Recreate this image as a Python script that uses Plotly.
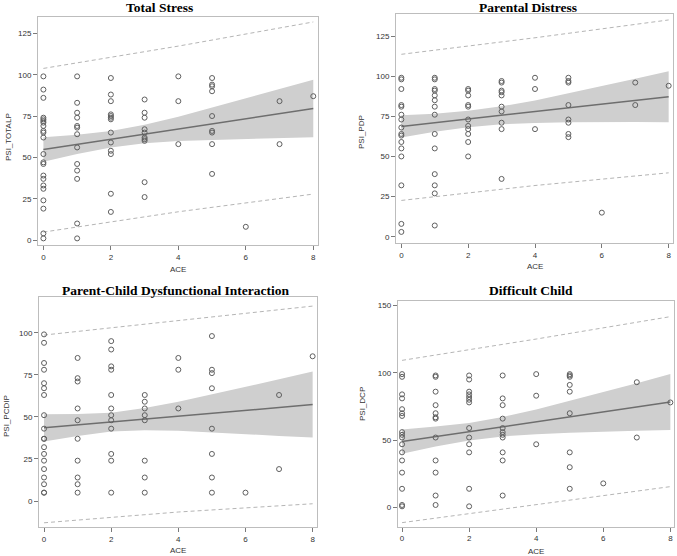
import plotly.graph_objects as go

# ---------------- data ----------------
ace_ticks = [0, 2, 4, 6, 8]
ace_grid = [0, 1, 2, 3, 4, 5, 6, 7, 8]
ace_ends = [0, 8]
ace_pred = [0, 4, 8]

# observed scores grouped by ACE level (index = ACE)
total_stress = [
    [99, 91, 86, 74, 73, 72, 71, 69, 66, 65, 62, 52, 47, 46, 39, 37, 33, 31, 24, 19, 4, 1],
    [99, 83, 77, 74, 69, 68, 64, 56, 46, 42, 37, 10, 1],
    [98, 88, 84, 76, 75, 74, 73, 65, 59, 54, 52, 28, 17],
    [85, 77, 74, 67, 65, 62, 61, 60, 35, 26],
    [99, 84, 58],
    [98, 94, 93, 90, 75, 66, 65, 58, 40],
    [8],
    [84, 58],
    [87],
]
parental_distress = [
    [99, 98, 92, 82, 81, 76, 73, 68, 64, 63, 59, 55, 50, 32, 8, 3],
    [99, 98, 92, 91, 88, 85, 81, 76, 64, 55, 39, 32, 27, 7],
    [92, 91, 88, 82, 81, 73, 69, 67, 64, 59, 50],
    [97, 96, 91, 90, 88, 81, 78, 71, 67, 36],
    [99, 92, 67],
    [99, 97, 96, 82, 73, 71, 64, 62],
    [15],
    [96, 82],
    [94],
]
pcdi = [
    [99, 94, 82, 78, 70, 67, 63, 51, 43, 37, 37, 32, 28, 24, 19, 14, 10, 5, 5],
    [85, 73, 71, 55, 48, 37, 24, 14, 10, 5],
    [95, 90, 80, 78, 63, 55, 51, 48, 43, 28, 24, 5],
    [63, 59, 55, 51, 48, 24, 14, 5],
    [85, 78, 55],
    [98, 78, 76, 67, 43, 28, 14, 5],
    [5],
    [63, 19],
    [86],
]
difficult_child = [
    [99, 97, 84, 81, 73, 70, 68, 56, 54, 52, 47, 41, 35, 26, 14, 2, 1],
    [98, 97, 86, 76, 70, 67, 66, 52, 35, 26, 9, 2],
    [98, 95, 86, 84, 82, 80, 78, 59, 52, 47, 41, 14, 1],
    [98, 81, 76, 66, 59, 56, 54, 52, 41, 35, 9],
    [99, 83, 47],
    [99, 98, 97, 91, 86, 70, 41, 30, 14],
    [18],
    [93, 52],
    [78],
]

# fitted line (ends), confidence band (at ACE grid), prediction limits
ts_fit = [54.8, 79.6]
ts_ci_upper = [62.2, 63.7, 66.0, 69.7, 74.5, 80.1, 85.7, 91.3, 97.0]
ts_ci_lower = [47.4, 52.1, 56.0, 58.5, 59.9, 60.5, 61.1, 61.7, 62.2]
ts_pi_upper = [103.8, 117.3, 131.9]
ts_pi_lower = [4.8, 17.1, 27.8]

pd_fit = [68.7, 87.2]
pd_ci_upper = [75.6, 76.6, 78.4, 81.2, 84.9, 89.3, 93.8, 98.4, 103.1]
pd_ci_lower = [61.8, 65.4, 68.2, 70.0, 70.9, 71.3, 71.4, 71.4, 71.3]
pd_pi_upper = [113.6, 123.9, 135.0]
pd_pi_lower = [22.6, 31.9, 39.8]

pc_fit = [43.5, 57.3]
pc_ci_upper = [51.6, 51.7, 52.5, 55.3, 59.0, 63.3, 67.8, 72.3, 76.9]
pc_ci_lower = [35.4, 38.7, 41.3, 42.1, 41.8, 40.9, 39.8, 38.7, 37.7]
pc_pi_upper = [98.6, 107.2, 115.8]
pc_pi_lower = [-12.9, -6.5, -1.6]

dc_fit = [49.0, 78.3]
dc_ci_upper = [58.0, 60.1, 62.8, 67.2, 72.8, 79.1, 85.6, 92.2, 99.1]
dc_ci_lower = [40.0, 45.3, 49.8, 52.8, 54.4, 55.5, 56.4, 57.0, 57.5]
dc_pi_upper = [109.2, 125.0, 141.6]
dc_pi_lower = [-11.1, 2.3, 15.6]

titles = ["Total Stress", "Parental Distress",
          "Parent-Child Dysfunctional Interaction", "Difficult Child"]
y_labels = ["PSI_TOTALP", "PSI_PDP", "PSI_PCDIP", "PSI_DCP"]
x_label = "ACE"
y_ticks = [[0, 25, 50, 75, 100, 125], [0, 25, 50, 75, 100, 125],
           [0, 25, 50, 75, 100], [0, 50, 100, 150]]

# ---------------- layout geometry ----------------
W, H = 677, 556
panels = [
    dict(scores=total_stress, fit=ts_fit, cu=ts_ci_upper, cl=ts_ci_lower,
         pu=ts_pi_upper, pl=ts_pi_lower,
         px=(38, 318), py=(17, 245), xr=[-0.16, 8.14], yr=[-3.0, 134.9],
         title_xy=(159, 7), ylab_xy=(8, 137), xlab_xy=(178, 269)),
    dict(scores=parental_distress, fit=pd_fit, cu=pd_ci_upper, cl=pd_ci_lower,
         pu=pd_pi_upper, pl=pd_pi_lower,
         px=(396, 673), py=(14, 243), xr=[-0.16, 8.13], yr=[-3.9, 138.7],
         title_xy=(528, 7), ylab_xy=(362, 132), xlab_xy=(535, 266)),
    dict(scores=pcdi, fit=pc_fit, cu=pc_ci_upper, cl=pc_ci_lower,
         pu=pc_pi_upper, pl=pc_pi_lower,
         px=(39, 317), py=(297, 527), xr=[-0.15, 8.13], yr=[-15.4, 121.2],
         title_xy=(175, 290), ylab_xy=(6, 416), xlab_xy=(178, 550)),
    dict(scores=difficult_child, fit=dc_fit, cu=dc_ci_upper, cl=dc_ci_lower,
         pu=dc_pi_upper, pl=dc_pi_lower,
         px=(397.7, 673.7), py=(301, 526.7), xr=[-0.13, 8.1], yr=[-14.1, 153.2],
         title_xy=(531, 290), ylab_xy=(362, 404), xlab_xy=(536, 551)),
]

fig = go.Figure()
annotations = []
tick_font = dict(family="Liberation Sans, Arial, sans-serif", size=8, color="#333333")
frame_color = "#bdbdbd"

for i, p in enumerate(panels):
    n = "" if i == 0 else str(i + 1)
    xa, ya = "x" + n, "y" + n
    # confidence band
    fig.add_trace(go.Scatter(
        x=ace_grid + ace_grid[::-1], y=p["cu"] + p["cl"][::-1],
        fill="toself", fillcolor="#cfcfcf", line=dict(width=0),
        mode="lines", hoverinfo="skip", showlegend=False, xaxis=xa, yaxis=ya))
    # prediction limits
    for lim in (p["pu"], p["pl"]):
        fig.add_trace(go.Scatter(
            x=ace_pred, y=lim, mode="lines",
            line=dict(color="#b5b5b5", width=1, dash="4px,3px"),
            showlegend=False, xaxis=xa, yaxis=ya))
    # fit line
    fig.add_trace(go.Scatter(
        x=ace_ends, y=p["fit"], mode="lines",
        line=dict(color="#6e6e6e", width=1.5),
        showlegend=False, xaxis=xa, yaxis=ya))
    # observations
    xs, ys = [], []
    for ace, vals in enumerate(p["scores"]):
        for v in vals:
            xs.append(ace)
            ys.append(v)
    fig.add_trace(go.Scatter(
        x=xs, y=ys, mode="markers",
        marker=dict(symbol="circle-open", size=5, color="#5f5f5f",
                    line=dict(width=1, color="#5f5f5f")),
        showlegend=False, xaxis=xa, yaxis=ya, cliponaxis=False))

    axis_common = dict(showgrid=False, zeroline=False, showline=True,
                       linecolor=frame_color, linewidth=1, mirror=True,
                       ticks="outside", ticklen=4, tickcolor="#7a7a7a",
                       tickfont=tick_font)
    fig.update_layout(**{
        ("xaxis" + n): dict(domain=[p["px"][0] / W, p["px"][1] / W],
                            anchor=ya, range=p["xr"], tickvals=ace_ticks,
                            **axis_common),
        ("yaxis" + n): dict(domain=[1 - p["py"][1] / H, 1 - p["py"][0] / H],
                            anchor=xa, range=p["yr"], tickvals=y_ticks[i],
                            **axis_common),
    })
    tx, ty = p["title_xy"]
    annotations.append(dict(
        text="<b>" + titles[i] + "</b>", x=tx / W, y=1 - ty / H,
        xref="paper", yref="paper", showarrow=False, xanchor="center", yanchor="middle",
        font=dict(family="Liberation Serif, Times New Roman, serif", size=13.5, color="#000000")))
    lx, ly = p["ylab_xy"]
    annotations.append(dict(
        text=y_labels[i], x=lx / W, y=1 - ly / H, textangle=-90,
        xref="paper", yref="paper", showarrow=False, xanchor="center", yanchor="middle",
        font=dict(family="Liberation Sans, Arial, sans-serif", size=8, color="#333333")))
    ax_, ay_ = p["xlab_xy"]
    annotations.append(dict(
        text=x_label, x=ax_ / W, y=1 - ay_ / H,
        xref="paper", yref="paper", showarrow=False, xanchor="center", yanchor="middle",
        font=dict(family="Liberation Sans, Arial, sans-serif", size=8, color="#333333")))

fig.update_layout(width=W, height=H, margin=dict(l=0, r=0, t=0, b=0),
                  paper_bgcolor="white", plot_bgcolor="white",
                  annotations=annotations, showlegend=False)

fig.write_html("out.html", config={"displayModeBar": False},
               post_script="document.body.style.margin='0';document.body.style.overflow='hidden';")
